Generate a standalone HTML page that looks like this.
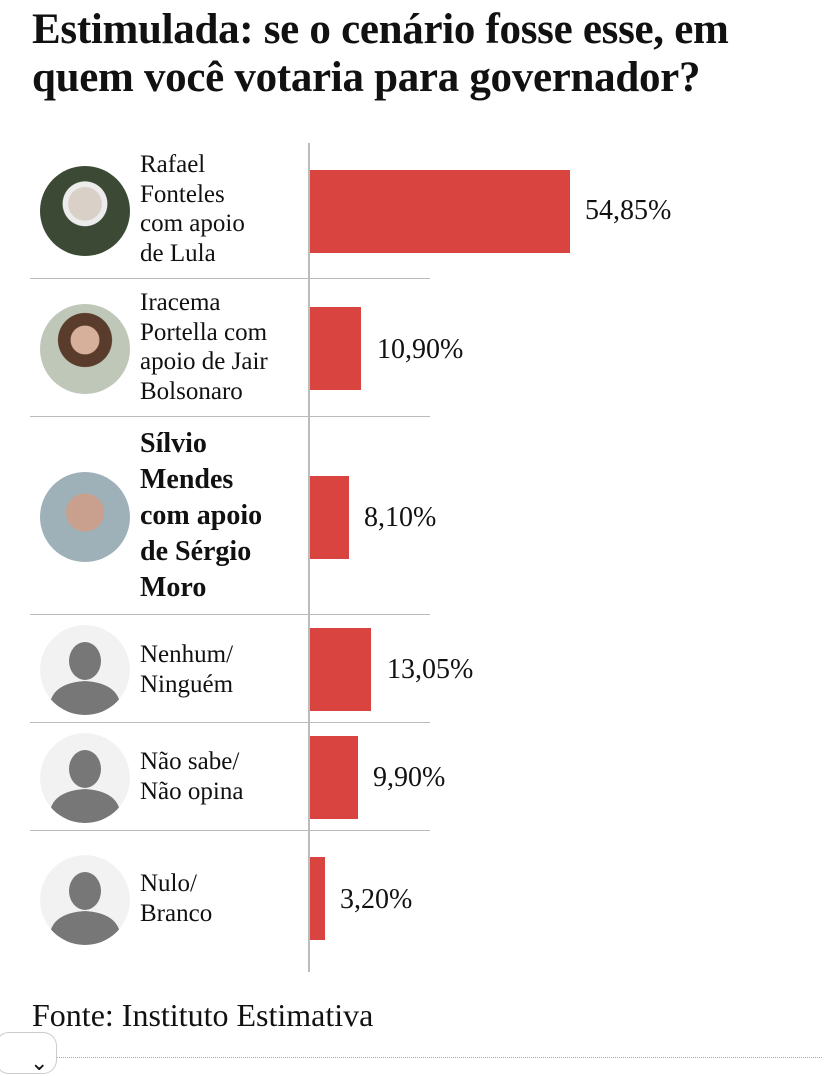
<!DOCTYPE html><html><head><meta charset="utf-8"><style>
body{margin:0;width:828px;height:1061px;background:#fff;position:relative;overflow:hidden;font-family:"Liberation Serif",serif;color:#111}
.a{position:absolute}
.t{left:32px;top:6px;font-size:43px;font-weight:bold;line-height:48px;letter-spacing:-0.3px;white-space:nowrap}
.sep{position:absolute;left:30px;width:400px;height:1px;background:#bbb}
.bar{position:absolute;left:310px;background:#d94440;height:83px}
.lab{position:absolute;left:140px;font-size:25px;line-height:29.5px;white-space:nowrap}
.val{position:absolute;font-size:28px}
.av{position:absolute;left:40px;width:90px;height:90px;border-radius:50%;overflow:hidden}
</style></head><body>
<div class="a t">Estimulada: se o cenário fosse esse, em<br>quem você votaria para governador?</div>
<div class="a" style="left:308px;top:143px;width:2px;height:829px;background:#bbb"></div>
<div class="sep" style="top:278px"></div><div class="sep" style="top:416px"></div><div class="sep" style="top:614px"></div><div class="sep" style="top:722px"></div><div class="sep" style="top:830px"></div>

<div class="bar" style="top:170px;width:260px"></div><div class="val" style="left:585px;top:195px">54,85%</div>
<div class="bar" style="top:307px;width:51px"></div><div class="val" style="left:377px;top:334px">10,90%</div>
<div class="bar" style="top:476px;width:39px"></div><div class="val" style="left:364px;top:502px">8,10%</div>
<div class="bar" style="top:628px;width:61px"></div><div class="val" style="left:387px;top:654px">13,05%</div>
<div class="bar" style="top:736px;width:48px"></div><div class="val" style="left:373px;top:762px">9,90%</div>
<div class="bar" style="top:857px;width:15px"></div><div class="val" style="left:340px;top:884px">3,20%</div>

<div class="lab" style="top:150px">Rafael<br>Fonteles<br>com apoio<br>de Lula</div>
<div class="lab" style="top:288px">Iracema<br>Portella com<br>apoio de Jair<br>Bolsonaro</div>
<div class="lab" style="top:426px;font-size:28px;font-weight:bold;line-height:36px">Sílvio<br>Mendes<br>com apoio<br>de Sérgio<br>Moro</div>
<div class="lab" style="top:640px">Nenhum/<br>Ninguém</div>
<div class="lab" style="top:747px">Não sabe/<br>Não opina</div>
<div class="lab" style="top:869px">Nulo/<br>Branco</div>

<div class="av" style="top:166px;background:radial-gradient(circle at 50% 42%,#d9d0c8 0 24%,#ececec 25% 32%,#3c4a35 33%)"></div>
<div class="av" style="top:304px;background:radial-gradient(circle at 50% 40%,#d6b09a 0 20%,#5a3c2c 21% 38%,#bfc7b8 39%)"></div>
<div class="av" style="top:472px;background:radial-gradient(circle at 50% 45%,#c9a08e 0 28%,#9fb1b8 29%)"></div>
<svg class="av" style="top:625px" viewBox="0 0 90 90"><circle cx="45" cy="45" r="45" fill="#f2f2f2"/><ellipse cx="45" cy="36" rx="16" ry="19" fill="#777"/><path d="M10 78 Q14 58 45 56 Q76 58 80 78 Q64 90 45 90 Q26 90 10 78Z" fill="#777"/></svg>
<svg class="av" style="top:733px" viewBox="0 0 90 90"><circle cx="45" cy="45" r="45" fill="#f2f2f2"/><ellipse cx="45" cy="36" rx="16" ry="19" fill="#777"/><path d="M10 78 Q14 58 45 56 Q76 58 80 78 Q64 90 45 90 Q26 90 10 78Z" fill="#777"/></svg>
<svg class="av" style="top:855px" viewBox="0 0 90 90"><circle cx="45" cy="45" r="45" fill="#f2f2f2"/><ellipse cx="45" cy="36" rx="16" ry="19" fill="#777"/><path d="M10 78 Q14 58 45 56 Q76 58 80 78 Q64 90 45 90 Q26 90 10 78Z" fill="#777"/></svg>

<div class="a" style="left:32px;top:997px;font-size:32px">Fonte: Instituto Estimativa</div>
<div class="a" style="left:-5px;top:1032px;width:60px;height:40px;border:1px solid #ccc;border-radius:14px;background:#fff"></div>
<div class="a" style="left:30px;top:1050px;font-size:22px">⌄</div>
<div class="a" style="left:57px;top:1057px;width:765px;border-top:1px dotted #aaa"></div>
</body></html>
